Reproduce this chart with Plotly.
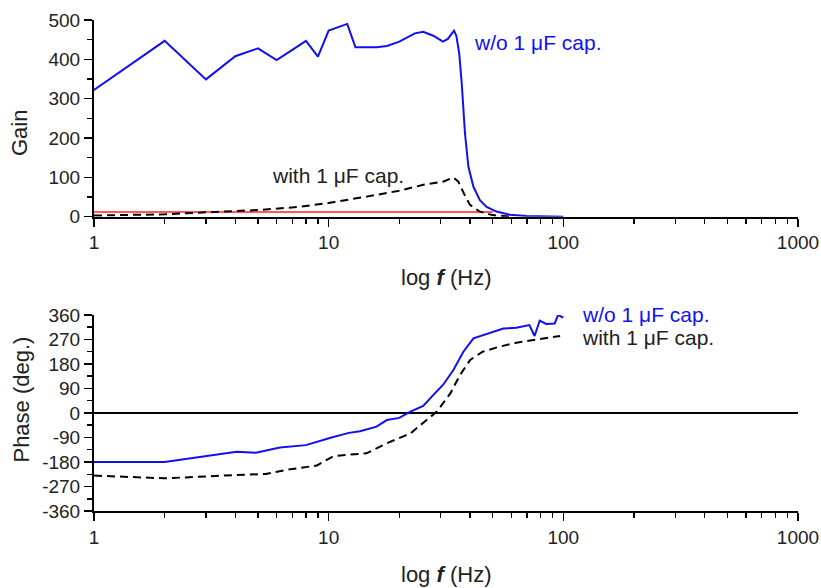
import plotly.graph_objects as go

# ---------------- data ----------------
f_gain_wo = [1, 2, 3, 4, 5, 6, 7, 8, 9, 10, 12, 13, 14, 16, 17.7, 19.2, 20, 23.3, 25.3,
             27.9, 30.7, 32.2, 34.2, 35, 36, 36.9, 38.1, 39.4, 41.4, 44.1, 47.1, 51.9,
             59.2, 69.7, 87.8, 100]
gain_wo = [322, 447, 349, 408, 428, 398, 424, 447, 407, 473, 490, 431, 431, 431, 434,
           442, 445, 466, 470, 460, 445, 452, 473, 460, 415, 339, 212, 127, 76, 42, 25,
           13, 5, 2, 0.5, 0]

f_gain_with = [1, 2, 3, 5, 7.5, 10, 14.5, 20, 25.3, 30.7, 34, 35.7, 37.7, 40, 44, 50, 60]
gain_with = [3, 6, 11, 17, 25, 35, 51, 66, 81, 89, 100, 89, 59, 30, 13, 4, 0]

f_ref = [1, 50]
gain_ref = [12, 12]

f_phase_wo = [1, 2, 4.05, 4.9, 6.2, 8, 10.2, 12.2, 13.6, 16, 17.7, 20, 22.3, 25.3, 27.5,
              30.7, 34, 37.5, 41.4, 44.9, 50.4, 55.5, 63, 71.7, 75.4, 79.3, 84.5, 91.9,
              95, 100]
phase_wo = [-180, -180, -142, -146, -127, -118, -91, -73, -67, -50, -26, -18, 5, 26, 60,
            103, 158, 225, 274, 284, 299, 310, 313, 323, 283, 339, 327, 329, 360, 350]

f_phase_with = [1, 2, 4, 5.4, 6.6, 8.9, 10.5, 13.1, 14.5, 17.7, 22.3, 25.3, 28.9, 33,
                36.3, 40.1, 45.3, 53.6, 63, 74.5, 96.9]
phase_with = [-230, -240, -228, -224, -209, -193, -158, -152, -148, -111, -75, -36, 5,
              72, 140, 195, 225, 244, 258, 268, 283]

x_ticks = [1, 10, 100, 1000]
x_ticktext = ["1", "10", "100", "1000"]
x_minor = [m * d for d in (1, 10, 100) for m in range(2, 10)]
gain_ticks = [0, 100, 200, 300, 400, 500]
phase_ticks = [-360, -270, -180, -90, 0, 90, 180, 270, 360]
phase_ticktext = ["-360", "-270", "-180", "-90", "0", "90", "180", "270", "360"]

label_wo = "w/o 1 \u03bcF cap."
label_with = "with 1 \u03bcF cap."

FONT = "Liberation Sans, Arial, sans-serif"
BLUE = "#1010f0"
TXT = "#222"

fig = go.Figure()
fig.add_trace(go.Scatter(x=f_ref, y=gain_ref, mode="lines",
                         line=dict(color="#ff2020", width=1.5), xaxis="x", yaxis="y"))
fig.add_trace(go.Scatter(x=f_gain_with, y=gain_with, mode="lines",
                         line=dict(color="black", width=2, dash="8px,5px"), xaxis="x", yaxis="y"))
fig.add_trace(go.Scatter(x=f_gain_wo, y=gain_wo, mode="lines",
                         line=dict(color=BLUE, width=2), xaxis="x", yaxis="y"))
fig.add_trace(go.Scatter(x=f_phase_with, y=phase_with, mode="lines",
                         line=dict(color="black", width=2, dash="8px,5px"), xaxis="x2", yaxis="y2"))
fig.add_trace(go.Scatter(x=f_phase_wo, y=phase_wo, mode="lines",
                         line=dict(color=BLUE, width=2), xaxis="x2", yaxis="y2"))

TICKFONT = dict(family=FONT, size=19, color=TXT)

xcommon = dict(type="log", range=[0, 3], tickmode="array", tickvals=x_ticks,
               ticktext=x_ticktext, ticks="outside", ticklen=8, tickwidth=1.5,
               tickcolor="black", showline=True, linecolor="black", linewidth=2,
               showgrid=False, zeroline=False, automargin=False,
               tickfont=TICKFONT,
               minor=dict(tickmode="array", tickvals=x_minor, ticks="outside",
                          ticklen=5, tickwidth=1.5, tickcolor="black", showgrid=False))

ycommon = dict(tickmode="array", ticks="outside", ticklen=8, tickwidth=1.5,
               tickcolor="black", showline=True, linecolor="black", linewidth=2,
               showgrid=False, automargin=False, tickfont=TICKFONT)

fig.update_layout(
    width=821, height=588,
    margin=dict(l=94, r=23, t=20, b=77),
    paper_bgcolor="white", plot_bgcolor="white",
    showlegend=False,
    font=dict(family=FONT, color=TXT),
    xaxis=dict(**xcommon, anchor="y"),
    xaxis2=dict(**xcommon, anchor="y2"),
    yaxis=dict(**ycommon, domain=[0.5994, 1.0], range=[0, 500], anchor="x",
               tickvals=gain_ticks, zeroline=False,
               minor=dict(dtick=50, tick0=0, ticks="outside", ticklen=5, tickwidth=1.5,
                          tickcolor="black", showgrid=False)),
    yaxis2=dict(**ycommon, domain=[0.0, 0.3992], range=[-360, 360], anchor="x2",
                tickvals=phase_ticks, ticktext=phase_ticktext, zeroline=True,
                zerolinecolor="black", zerolinewidth=1.5,
                minor=dict(dtick=45, tick0=0, ticks="outside", ticklen=5, tickwidth=1.5,
                           tickcolor="black", showgrid=False)),
)

ann_font = dict(family=FONT, size=21, color=TXT)
blue_font = dict(family=FONT, size=21, color=BLUE)
title_font = dict(family=FONT, size=22, color=TXT)
annotations = [
    dict(text=label_wo, x=1.61, y=444, xref="x", yref="y", xanchor="left",
         yanchor="middle", showarrow=False, font=blue_font),
    dict(text=label_with, x=0.75, y=104, xref="x", yref="y", xanchor="left",
         yanchor="middle", showarrow=False, font=ann_font),
    dict(text=label_wo, x=2.07, y=360, xref="x2", yref="y2", xanchor="left",
         yanchor="middle", showarrow=False, font=blue_font),
    dict(text=label_with, x=2.07, y=279, xref="x2", yref="y2", xanchor="left",
         yanchor="middle", showarrow=False, font=ann_font),
    dict(text="log <b><i>f</i></b> (Hz)", x=0.5, y=0.4752, xref="paper", yref="paper",
         xanchor="center", yanchor="middle", showarrow=False, font=title_font),
    dict(text="log <b><i>f</i></b> (Hz)", x=0.5, y=-0.130, xref="paper", yref="paper",
         xanchor="center", yanchor="middle", showarrow=False, font=title_font),
    dict(text="Gain", x=-0.105, y=0.770, xref="paper", yref="paper", textangle=-90,
         xanchor="center", yanchor="middle", showarrow=False, font=title_font),
    dict(text="Phase (deg.)", x=-0.103, y=0.228, xref="paper", yref="paper", textangle=-90,
         xanchor="center", yanchor="middle", showarrow=False, font=title_font),
]
fig.update_layout(annotations=annotations)

fig.write_html(
    "out.html",
    config={"displayModeBar": False, "staticPlot": True},
    post_script="document.body.style.margin='0';document.body.style.overflow='hidden';",
)
